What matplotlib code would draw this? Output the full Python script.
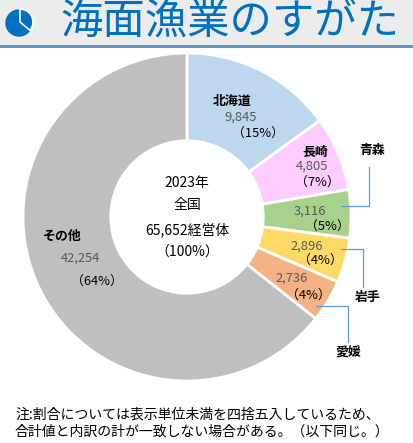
import matplotlib
matplotlib.use("Agg")
import matplotlib.pyplot as plt
from matplotlib.patches import Rectangle, Wedge

plt.rcParams['font.family'] = ['Noto Sans CJK JP', 'DejaVu Sans']

# data
names = ["北海道", "長崎", "青森", "岩手", "愛媛", "その他"]
counts = [9845, 4805, 3116, 2896, 2736, 42254]
pcts = ["（15%）", "（7%）", "（5%）", "（4%）", "（4%）", "（64%）"]
colors = ["#bdd7ee", "#ffccff", "#a9d18e", "#ffd966", "#f4b183", "#bfbfbf"]
total = 65652
year = "2023年"

W, H = 413, 443
fig = plt.figure(figsize=(W / 100, H / 100), dpi=100)
ax = fig.add_axes([0, 0, 1, 1])

def Y(y):
    # pixel y (from top) -> data y
    return H - y

# title bar
ax.add_patch(Rectangle((0, Y(45)), W, 45, color="#ececec", zorder=0))
ax.plot([0, W], [Y(46), Y(46)], color="#5b9bd5", lw=2.2, zorder=1)
ax.text(60, Y(22), "海面漁業のすがた", color="#0070c0", fontsize=30.5,
        ha="left", va="center")
# little pie icon
ax.add_patch(Wedge((19, Y(23)), 13, 90, 450, color="#0070c0", zorder=2))
ax.add_patch(Wedge((20, Y(22)), 13, -40, 90, facecolor="#0070c0",
                   edgecolor="white", lw=1.2, zorder=3))

# donut
cx, cy, r = 187, Y(217), 164
ax.pie(counts, colors=colors, startangle=90, counterclock=False,
       center=(cx, cy), radius=r,
       wedgeprops=dict(width=r * 0.535, edgecolor="white", linewidth=2))

# slice labels (pixel positions)
name_pos = [(232, 101), (315, 152), (372, 150), (368, 297), (348, 353), (62, 236)]
num_pos = [(241, 117), (312, 166), (310, 211), (307, 246), (292, 278), (80, 258)]
pct_pos = [(258, 133), (317, 182), (327, 226), (320, 260), (308, 295), (97, 281)]
for i in range(len(names)):
    ax.text(name_pos[i][0], Y(name_pos[i][1]), names[i], fontsize=9.3,
            fontweight="bold", ha="center", va="center", color="black")
    ax.text(num_pos[i][0], Y(num_pos[i][1]), f"{counts[i]:,}", fontsize=9.3,
            ha="center", va="center", color="#595959")
    ax.text(pct_pos[i][0], Y(pct_pos[i][1]), pcts[i], fontsize=9.3,
            ha="center", va="center", color="black")

# leader lines
leaders = [
    [(342, 206), (369, 206), (369, 167)],
    [(341, 249), (363, 249), (363, 287)],
    [(316, 306), (348, 306), (348, 342)],
]
for pts in leaders:
    ax.plot([p[0] for p in pts], [Y(p[1]) for p in pts], color="#5b9bd5", lw=0.9)

# centre text
ax.text(cx, Y(183), year, fontsize=10, ha="center", va="center")
ax.text(cx, Y(205), "全国", fontsize=10, ha="center", va="center")
ax.text(cx, Y(230), f"{total:,}経営体", fontsize=10, ha="center", va="center")
ax.text(cx, Y(253), "（100%）", fontsize=10, ha="center", va="center")

# footnote
ax.text(15, Y(415), "注:割合については表示単位未満を四捨五入しているため、",
        fontsize=10, ha="left", va="center")
ax.text(15, Y(432), "合計値と内訳の計が一致しない場合がある。（以下同じ。）",
        fontsize=10, ha="left", va="center")

ax.set_xlim(0, W)
ax.set_ylim(0, H)
ax.set_aspect("equal")
ax.axis("off")
fig.savefig("out.png", dpi=100)
